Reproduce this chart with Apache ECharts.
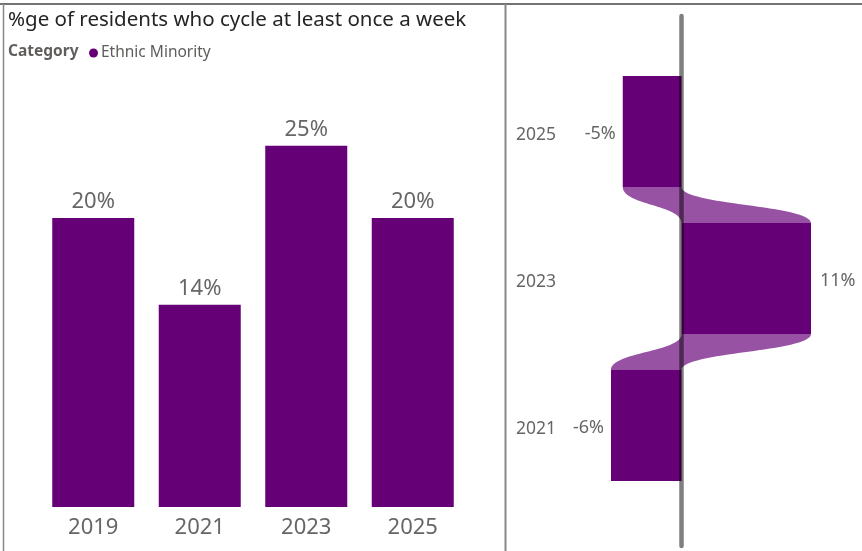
<!DOCTYPE html>
<html>
<head>
<meta charset="utf-8">
<script src="https://cdn.jsdelivr.net/npm/echarts@6/dist/echarts.min.js"></script>
<style>
html,body{margin:0;padding:0;background:#fff;}
#c{width:862px;height:551px;}
</style>
</head>
<body>
<div id="c"></div>
<script>
const titleText = '%ge of residents who cycle at least once a week';
const legendTitle = 'Category';
const seriesName = 'Ethnic Minority';
const years = ['2019', '2021', '2023', '2025'];
const pctValues = [20, 14, 25, 20];
const changeYears = ['2021', '2023', '2025'];
const changeValues = [-6, 11, -5];

const purple = '#660077';
const txt = '#666666';
const font = 'Noto Sans';
const gapRatio = 0.245;

const ribbonData = changeValues.slice(1).map((v, i) => [i + 1, i]);

const chart = echarts.init(document.getElementById('c'));
chart.setOption({
  animation: false,
  textStyle: { fontFamily: font },
  title: [
    { text: titleText, left: 3, top: 5, textStyle: { fontFamily: font, fontSize: 20.5, fontWeight: 'normal', color: '#252423' } },
    { text: legendTitle, left: 3, top: 39, textStyle: { fontFamily: font, fontSize: 15.5, fontWeight: 'bold', color: '#605e5c' } }
  ],
  legend: {
    data: [seriesName], left: 84, top: 40, icon: 'circle', itemWidth: 9, itemHeight: 9, itemGap: 5,
    textStyle: { fontFamily: font, fontSize: 15.5, color: '#605e5c', padding: [0, 0, 0, -2] }
  },
  grid: [
    { left: 40, right: 396, top: 73.5, bottom: 44 },
    { left: 611, right: 51, top: 58, bottom: 52 },
    { left: 611, right: 51, top: 16, bottom: 5 }
  ],
  xAxis: [
    { type: 'category', gridIndex: 0, data: years, axisLine: { show: false }, axisTick: { show: false },
      axisLabel: { fontFamily: font, fontSize: 22, color: txt, margin: 10 } },
    { type: 'value', gridIndex: 1, min: -6, max: 11, show: false },
    { type: 'value', gridIndex: 2, min: -6, max: 11, show: false }
  ],
  yAxis: [
    { type: 'value', gridIndex: 0, min: 0, max: 30, show: false },
    { type: 'category', gridIndex: 1, data: changeYears, axisLine: { show: false }, axisTick: { show: false },
      axisLabel: { fontFamily: font, fontSize: 17.5, color: txt, margin: 55,
        formatter: v => '{a|' + v + '}',
        rich: { a: { fontFamily: font, fontSize: 17.5, color: txt, padding: [7, 0, 0, 0] } } } },
    { type: 'value', gridIndex: 2, min: 0, max: 1, z: 10, splitLine: { show: false }, axisTick: { show: false }, axisLabel: { show: false },
      axisLine: { show: true, onZero: true, lineStyle: { color: 'rgba(0,0,0,0.5)', width: 4.5, cap: 'round' } } }
  ],
  series: [
    {
      name: seriesName, type: 'bar', xAxisIndex: 0, yAxisIndex: 0, data: pctValues,
      barCategoryGap: '23%', itemStyle: { color: purple },
      label: { show: true, position: 'top', distance: 5, formatter: p => p.value + '%', fontFamily: font, fontSize: 22, color: txt }
    },
    {
      type: 'custom', xAxisIndex: 1, yAxisIndex: 1, data: ribbonData, z: 1,
      renderItem: function (params, api) {
        const up = api.value(0), lo = api.value(1);
        const vU = changeValues[up], vL = changeValues[lo];
        const band = api.size([0, 1])[1];
        const half = band * (1 - gapRatio) / 2;
        const yTop = api.coord([0, up])[1] + half;
        const yBot = api.coord([0, lo])[1] - half;
        const xLU = api.coord([Math.min(0, vU), up])[0];
        const xRU = api.coord([Math.max(0, vU), up])[0];
        const xLL = api.coord([Math.min(0, vL), lo])[0];
        const xRL = api.coord([Math.max(0, vL), lo])[0];
        const ym = (yTop + yBot) / 2;
        const d = 'M' + xLU + ' ' + yTop +
          ' C' + xLU + ' ' + ym + ' ' + xLL + ' ' + ym + ' ' + xLL + ' ' + yBot +
          ' L' + xRL + ' ' + yBot +
          ' C' + xRL + ' ' + ym + ' ' + xRU + ' ' + ym + ' ' + xRU + ' ' + yTop + ' Z';
        return { type: 'path', shape: { pathData: d }, style: { fill: purple, opacity: 0.68 } };
      }
    },
    {
      type: 'bar', xAxisIndex: 1, yAxisIndex: 1, barCategoryGap: (gapRatio * 100) + '%', z: 2,
      data: changeValues.map(v => ({
        value: v,
        label: { position: v < 0 ? 'left' : 'right', distance: v < 0 ? 7 : 9 }
      })),
      itemStyle: { color: purple },
      label: { show: true, formatter: p => p.value + '%', fontFamily: font, fontSize: 18, color: txt, offset: [0, 2] }
    }
  ],
  graphic: [
    { type: 'line', shape: { x1: 0, y1: 4, x2: 862, y2: 4 }, style: { stroke: '#444', lineWidth: 1.5 }, z: 100 },
    { type: 'line', shape: { x1: 3.5, y1: 4, x2: 3.5, y2: 551 }, style: { stroke: '#888', lineWidth: 1.5 }, z: 100 },
    { type: 'line', shape: { x1: 505.5, y1: 4, x2: 505.5, y2: 551 }, style: { stroke: '#888', lineWidth: 2 }, z: 100 }
  ]
});
</script>
</body>
</html>
